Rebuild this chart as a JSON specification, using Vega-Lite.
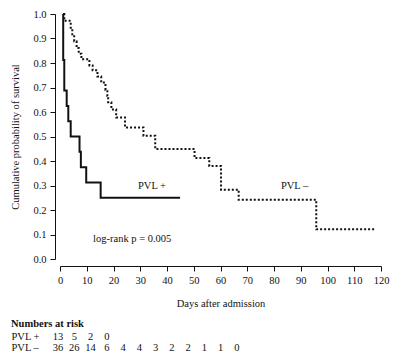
{
  "$schema": "https://vega.github.io/schema/vega-lite/v6.json",
  "autosize": {"type": "pad"},
  "padding": {"left": 10, "top": 9, "right": 5, "bottom": 5},
  "config": {
    "font": "Liberation Serif",
    "view": {"stroke": null},
    "axis": {"labelFont": "Liberation Serif", "titleFont": "Liberation Serif", "labelFontSize": 10.5, "titleFontSize": 10.5, "titleFontWeight": "normal", "labelColor": "#111", "titleColor": "#111", "domainColor": "#111", "tickColor": "#111", "grid": false}
  },
  "datasets": {
    "curves": [
      {"group": "PVL +", "day": 1.1, "surv": 1.0},
      {"group": "PVL +", "day": 1.2, "surv": 0.8125},
      {"group": "PVL +", "day": 1.6, "surv": 0.6875},
      {"group": "PVL +", "day": 2.5, "surv": 0.625},
      {"group": "PVL +", "day": 3.1, "surv": 0.5625},
      {"group": "PVL +", "day": 4.0, "surv": 0.5},
      {"group": "PVL +", "day": 7.3, "surv": 0.4375},
      {"group": "PVL +", "day": 7.8, "surv": 0.375},
      {"group": "PVL +", "day": 9.8, "surv": 0.3125},
      {"group": "PVL +", "day": 15.2, "surv": 0.25},
      {"group": "PVL +", "day": 44.9, "surv": 0.25},
      {"group": "PVL –", "day": 1.3, "surv": 1.0},
      {"group": "PVL –", "day": 1.6, "surv": 0.972},
      {"group": "PVL –", "day": 4.0, "surv": 0.944},
      {"group": "PVL –", "day": 4.6, "surv": 0.917},
      {"group": "PVL –", "day": 5.3, "surv": 0.889},
      {"group": "PVL –", "day": 6.2, "surv": 0.861},
      {"group": "PVL –", "day": 7.0, "surv": 0.838},
      {"group": "PVL –", "day": 8.0, "surv": 0.815},
      {"group": "PVL –", "day": 11.0, "surv": 0.79},
      {"group": "PVL –", "day": 12.2, "surv": 0.77},
      {"group": "PVL –", "day": 14.0, "surv": 0.745},
      {"group": "PVL –", "day": 15.4, "surv": 0.72},
      {"group": "PVL –", "day": 17.0, "surv": 0.69},
      {"group": "PVL –", "day": 17.7, "surv": 0.665},
      {"group": "PVL –", "day": 18.0, "surv": 0.64},
      {"group": "PVL –", "day": 19.2, "surv": 0.61},
      {"group": "PVL –", "day": 21.0, "surv": 0.578},
      {"group": "PVL –", "day": 24.3, "surv": 0.537},
      {"group": "PVL –", "day": 31.2, "surv": 0.503},
      {"group": "PVL –", "day": 35.6, "surv": 0.449},
      {"group": "PVL –", "day": 50.3, "surv": 0.412},
      {"group": "PVL –", "day": 55.8, "surv": 0.38},
      {"group": "PVL –", "day": 60.2, "surv": 0.283},
      {"group": "PVL –", "day": 66.8, "surv": 0.242},
      {"group": "PVL –", "day": 95.8, "surv": 0.121},
      {"group": "PVL –", "day": 118.0, "surv": 0.121}
    ],
    "notes": [
      {"day": 34.4, "surv": 0.30, "label": "PVL +"},
      {"day": 87.7, "surv": 0.30, "label": "PVL –"},
      {"day": 27.0, "surv": 0.08, "label": "log-rank p = 0.005"}
    ],
    "risk": [
      {"row": "PVL +", "col": 0, "n": "13"},
      {"row": "PVL +", "col": 1, "n": "5"},
      {"row": "PVL +", "col": 2, "n": "2"},
      {"row": "PVL +", "col": 3, "n": "0"},
      {"row": "PVL –", "col": 0, "n": "36"},
      {"row": "PVL –", "col": 1, "n": "26"},
      {"row": "PVL –", "col": 2, "n": "14"},
      {"row": "PVL –", "col": 3, "n": "6"},
      {"row": "PVL –", "col": 4, "n": "4"},
      {"row": "PVL –", "col": 5, "n": "4"},
      {"row": "PVL –", "col": 6, "n": "3"},
      {"row": "PVL –", "col": 7, "n": "2"},
      {"row": "PVL –", "col": 8, "n": "2"},
      {"row": "PVL –", "col": 9, "n": "1"},
      {"row": "PVL –", "col": 10, "n": "1"},
      {"row": "PVL –", "col": 11, "n": "0"}
    ]
  },
  "spacing": 9,
  "vconcat": [
    {
      "width": 321,
      "height": 245,
      "encoding": {
        "x": {"field": "day", "type": "quantitative", "scale": {"domain": [0, 120], "nice": false},
          "axis": {"title": "Days after admission", "values": [0,10,20,30,40,50,60,70,80,90,100,110,120], "labelOverlap": false, "labelFlush": false, "labelBound": false, "offset": 7, "tickSize": 5, "labelPadding": 4, "titlePadding": 13}},
        "y": {"field": "surv", "type": "quantitative", "scale": {"domain": [0, 1], "nice": false},
          "axis": {"title": "Cumulative probability of survival", "values": [0,0.1,0.2,0.3,0.4,0.5,0.6,0.7,0.8,0.9,1.0], "labelOverlap": false, "labelFlush": false, "labelBound": false, "format": ".1f", "offset": 5, "tickSize": 5, "labelPadding": 4, "titlePadding": 12}}
      },
      "layer": [
        {
          "data": {"name": "curves"},
          "mark": {"type": "line", "interpolate": "step-after", "color": "#111", "strokeWidth": 2},
          "encoding": {
            "detail": {"field": "group"},
            "strokeDash": {"field": "group", "type": "nominal", "scale": {"domain": ["PVL +", "PVL –"], "range": [[1, 0], [2, 2]]}, "legend": null}
          }
        },
        {
          "data": {"name": "notes"},
          "mark": {"type": "text", "fontSize": 10.5, "color": "#111", "align": "center", "baseline": "middle"},
          "encoding": {
            "text": {"field": "label"}
          }
        }
      ]
    },
    {
      "width": 321,
      "height": 22,
      "title": {"text": "Numbers at risk", "anchor": "start", "frame": "bounds", "fontSize": 10.5, "fontWeight": "bold", "font": "Liberation Serif", "color": "#111", "offset": 2},
      "data": {"name": "risk"},
      "mark": {"type": "text", "fontSize": 10.5, "color": "#111", "align": "center", "baseline": "middle", "dx": -2},
      "encoding": {
        "x": {"field": "col", "type": "quantitative", "scale": {"domain": [0, 19.73], "nice": false}, "axis": null},
        "y": {"field": "row", "type": "nominal", "scale": {"domain": ["PVL +", "PVL –"], "paddingInner": 0, "paddingOuter": 0},
          "axis": {"title": null, "domain": false, "ticks": false, "labelAlign": "left", "labelPadding": 49}},
        "text": {"field": "n"}
      }
    }
  ]
}
